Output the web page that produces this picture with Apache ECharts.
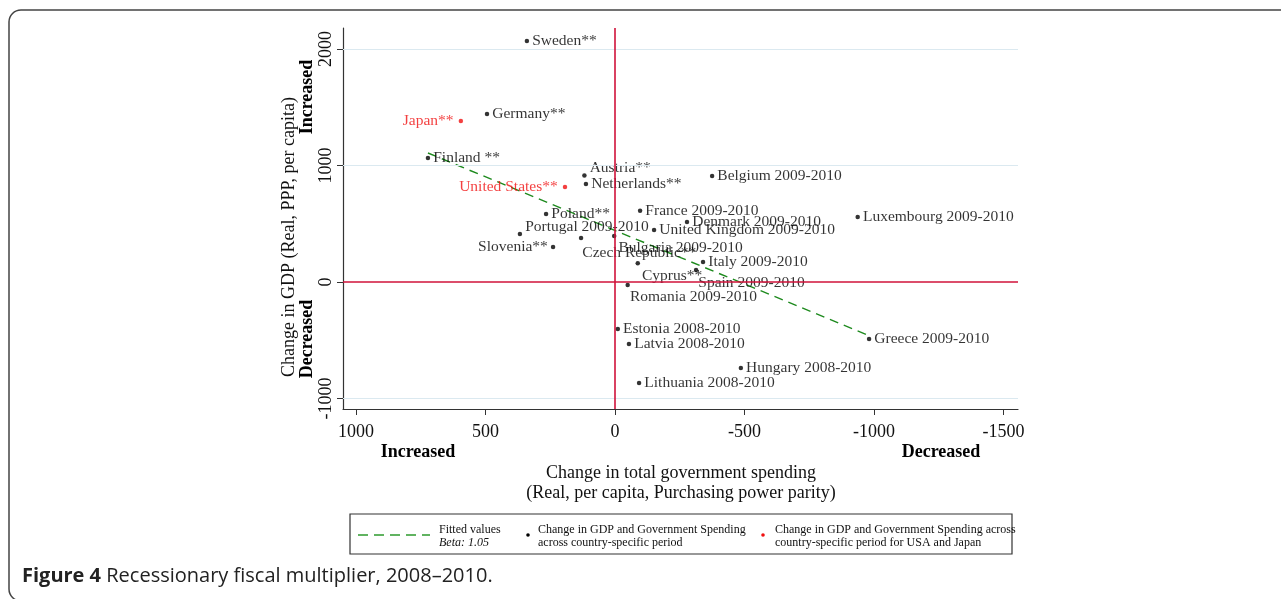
<!DOCTYPE html>
<html>
<head>
<meta charset="utf-8">
<script src="https://cdn.jsdelivr.net/npm/echarts@6/dist/echarts.min.js"></script>
<style>html,body{margin:0;padding:0;background:#fff;}#c{width:1281px;height:599px;}</style>
</head>
<body>
<div id="c"></div>
<script>
// ---- data (spending change: positive = increased; GDP change) ----
const countries = ["Sweden**","Germany**","Finland **","Austria**","Netherlands**","Belgium 2009-2010",
  "France 2009-2010","Luxembourg 2009-2010","Denmark 2009-2010","United Kingdom 2009-2010","Poland**",
  "Portugal 2009-2010","Slovenia**","Czech Republic**","Bulgaria 2009-2010","Italy 2009-2010","Cyprus**",
  "Spain 2009-2010","Romania 2009-2010","Estonia 2008-2010","Latvia 2008-2010","Greece 2009-2010",
  "Hungary 2008-2010","Lithuania 2008-2010"];
const spending = [340,494,722,118,112,-375,-97,-937,-278,-151,266,367,239,131,3,-340,-88,-313,-49,-11,-54,-981,-486,-93];
const gdp = [2069,1442,1064,915,841,910,612,558,515,446,584,412,300,377,395,172,161,103,-26,-403,-532,-489,-738,-867];
const usjNames = ["Japan**","United States**"];
const usjSpending = [595,193];
const usjGdp = [1382,815];
const fitX = [722,-981];
const fitY = [1107,-460];
const xTicks = [1000,500,0,-500,-1000,-1500];
const yTicks = [-1000,0,1000,2000];
const gridLines = [2000,1000,-1000];

// ---- label placement (styling) ----
const labelPlace = {
  "Slovenia**": {position:'left'},
  "Austria**": {position:'right', offset:[0,-7]},
  "Portugal 2009-2010": {position:'right', offset:[0,-7]},
  "Czech Republic**": {position:'right', offset:[-4,15]},
  "Bulgaria 2009-2010": {position:'right', offset:[-1,12]},
  "Cyprus**": {position:'right', offset:[-1,13]},
  "Spain 2009-2010": {position:'right', offset:[-3,13]},
  "Romania 2009-2010": {position:'right', offset:[-3,12]}
};
const SERIF = '"Liberation Serif","DejaVu Serif",serif';

const blackData = countries.map((n,i)=>{
  const p = labelPlace[n] || {position:'right'};
  return {name:n, value:[spending[i],gdp[i]], label:Object.assign({}, p)};
});
const redData = usjNames.map((n,i)=>({name:n, value:[usjSpending[i],usjGdp[i]], label:{position:'left'}}));

const chart = echarts.init(document.getElementById('c'), null, {renderer:'canvas'});
const option = {
  animation:false,
  backgroundColor:'#fff',
  grid:{left:343, top:28, width:675, height:381, containLabel:false},
  xAxis:{
    type:'value', inverse:true, min:-1556, max:1050,
    axisLine:{show:true, onZero:false, lineStyle:{color:'#333', width:1.2}},
    axisTick:{show:true, inside:false, length:6, customValues:xTicks, lineStyle:{color:'#333'}},
    axisLabel:{customValues:xTicks, formatter:v=>String(v), fontFamily:SERIF, fontSize:18, color:'#111', margin:14},
    splitLine:{show:false}
  },
  yAxis:{
    type:'value', min:-1090, max:2180,
    axisLine:{show:true, onZero:false, lineStyle:{color:'#333', width:1.2}},
    axisTick:{show:true, inside:false, length:6, customValues:yTicks, lineStyle:{color:'#333'}},
    axisLabel:{customValues:yTicks, formatter:v=>String(v), rotate:90, fontFamily:SERIF, fontSize:18, color:'#111', margin:8},
    splitLine:{show:false}
  },
  series:[
    {
      type:'line', data:[], silent:true,
      markLine:{symbol:'none', silent:true, label:{show:false},
        lineStyle:{color:'#dbe9f0', width:1.2, type:'solid'},
        data:gridLines.map(v=>({yAxis:v}))}
    },
    {
      type:'line', data:[], silent:true,
      markLine:{symbol:'none', silent:true, label:{show:false},
        lineStyle:{color:'#d0123a', width:1.6, type:'solid'},
        data:[{xAxis:0},{yAxis:0}]}
    },
    {
      type:'line', name:'Fitted values', data:fitX.map((x,i)=>[x,fitY[i]]),
      symbol:'none', lineStyle:{color:'#1e8a1e', width:1.4, type:[9,6]}, z:3
    },
    {
      type:'scatter', data:blackData, symbolSize:4.5, itemStyle:{color:'#000'}, z:4,
      label:{show:true, formatter:'{b}', fontFamily:SERIF, fontSize:15.5, color:'#000', distance:3}
    },
    {
      type:'scatter', data:redData, symbolSize:4.5, itemStyle:{color:'#f01010'}, z:4,
      label:{show:true, formatter:'{b}', fontFamily:SERIF, fontSize:15.5, color:'#f01010', distance:5}
    }
  ],
  graphic:[
    {type:'rect', shape:{x:9, y:10, width:1290, height:591, r:12}, style:{fill:'none', stroke:'#444', lineWidth:1.5}, silent:true},
    // y-axis title and side labels
    {type:'text', x:289, y:237, rotation:Math.PI/2, style:{text:'Change in GDP (Real, PPP, per capita)', font:'18px '+SERIF, fill:'#111', align:'center', verticalAlign:'middle'}},
    {type:'text', x:307, y:97, rotation:Math.PI/2, style:{text:'Increased', font:'bold 18px '+SERIF, fill:'#000', align:'center', verticalAlign:'middle'}},
    {type:'text', x:307, y:339, rotation:Math.PI/2, style:{text:'Decreased', font:'bold 18px '+SERIF, fill:'#000', align:'center', verticalAlign:'middle'}},
    // x-axis title and side labels
    {type:'text', x:418, y:452, style:{text:'Increased', font:'bold 18px '+SERIF, fill:'#000', align:'center', verticalAlign:'middle'}},
    {type:'text', x:941, y:452, style:{text:'Decreased', font:'bold 18px '+SERIF, fill:'#000', align:'center', verticalAlign:'middle'}},
    {type:'text', x:681, y:473, style:{text:'Change in total government spending', font:'18px '+SERIF, fill:'#111', align:'center', verticalAlign:'middle'}},
    {type:'text', x:681, y:493, style:{text:'(Real, per capita, Purchasing power parity)', font:'18px '+SERIF, fill:'#111', align:'center', verticalAlign:'middle'}},
    // legend box
    {type:'rect', shape:{x:350, y:514, width:662, height:40}, style:{fill:'#fff', stroke:'#333', lineWidth:1.2}},
    {type:'line', shape:{x1:358, y1:535, x2:430, y2:535}, style:{stroke:'#2e9a2e', lineWidth:1.6, lineDash:[10,6]}},
    {type:'text', x:439, y:530, style:{text:'Fitted values', font:'12px '+SERIF, fill:'#111', verticalAlign:'middle'}},
    {type:'text', x:439, y:543, style:{text:'Beta: 1.05', font:'italic 12px '+SERIF, fill:'#111', verticalAlign:'middle'}},
    {type:'circle', shape:{cx:528, cy:535, r:1.8}, style:{fill:'#000'}},
    {type:'text', x:538, y:530, style:{text:'Change in GDP and Government Spending', font:'12px '+SERIF, fill:'#111', verticalAlign:'middle'}},
    {type:'text', x:538, y:543, style:{text:'across country-specific period', font:'12px '+SERIF, fill:'#111', verticalAlign:'middle'}},
    {type:'circle', shape:{cx:763, cy:535, r:1.8}, style:{fill:'#f01010'}},
    {type:'text', x:775, y:530, style:{text:'Change in GDP and Government Spending across', font:'12px '+SERIF, fill:'#111', verticalAlign:'middle'}},
    {type:'text', x:775, y:543, style:{text:'country-specific period for USA and Japan', font:'12px '+SERIF, fill:'#111', verticalAlign:'middle'}},
    // caption
    {type:'text', x:22, y:576, style:{text:'{b|Figure 4} Recessionary fiscal multiplier, 2008\u20132010.', font:'20px "Open Sans",sans-serif', fill:'#222', verticalAlign:'middle',
      rich:{b:{fontWeight:'bold', fontFamily:'"Open Sans",sans-serif', fontSize:20, fill:'#222'}}}}
  ]
};
chart.setOption(option);
</script>
</body>
</html>
